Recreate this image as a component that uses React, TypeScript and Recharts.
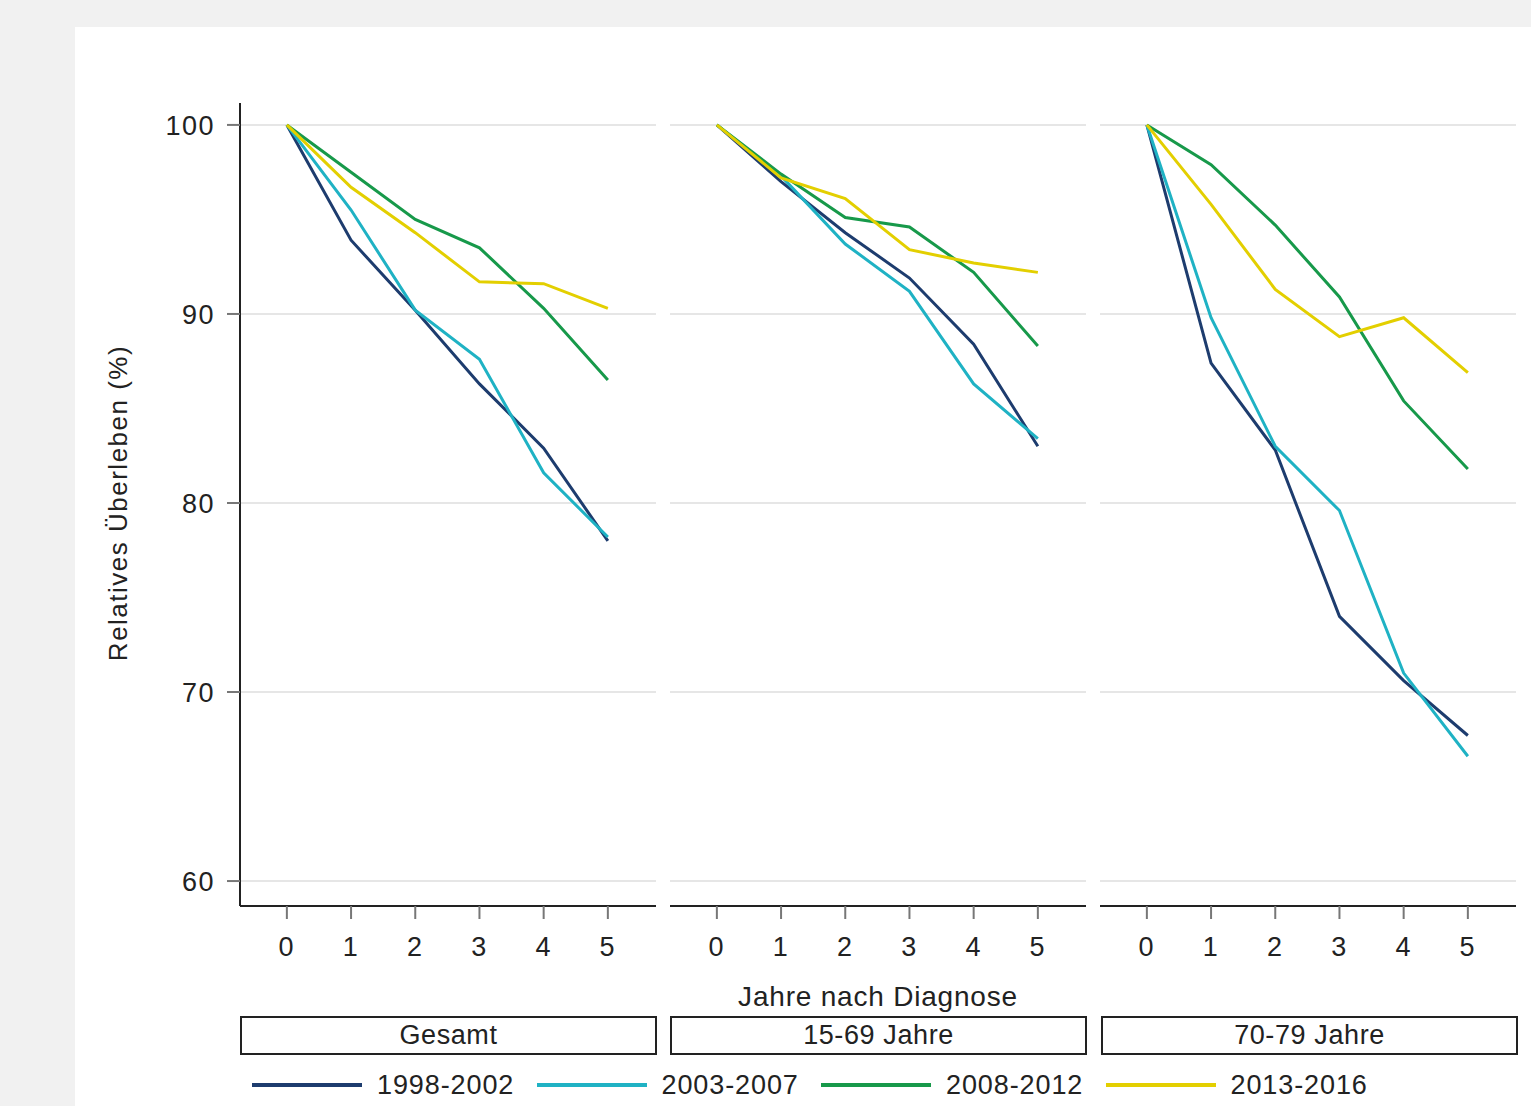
import React from 'react';
import { LineChart, Line, XAxis, YAxis, ReferenceLine } from 'recharts';

// Jahre nach Diagnose
const YEARS = [0, 1, 2, 3, 4, 5];
const Y_TICKS = [60, 70, 80, 90, 100];
const PERIODS = ['1998-2002', '2003-2007', '2008-2012', '2013-2016'];
const COLORS = ['#1d3c6e', '#1fb2c4', '#17994a', '#e3cf00'];
const PANELS = ['Gesamt', '15-69 Jahre', '70-79 Jahre'];

// relatives Überleben (%) – Gesamt
const GESAMT_1998 = [100, 93.9, 90.2, 86.3, 82.9, 78.0];
const GESAMT_2003 = [100, 95.5, 90.2, 87.6, 81.6, 78.2];
const GESAMT_2008 = [100, 97.5, 95.0, 93.5, 90.3, 86.5];
const GESAMT_2013 = [100, 96.7, 94.3, 91.7, 91.6, 90.3];

// 15-69 Jahre
const JUNG_1998 = [100, 97.0, 94.3, 91.9, 88.4, 83.0];
const JUNG_2003 = [100, 97.3, 93.7, 91.2, 86.3, 83.4];
const JUNG_2008 = [100, 97.4, 95.1, 94.6, 92.2, 88.3];
const JUNG_2013 = [100, 97.2, 96.1, 93.4, 92.7, 92.2];

// 70-79 Jahre
const ALT_1998 = [100, 87.4, 82.8, 74.0, 70.6, 67.7];
const ALT_2003 = [100, 89.8, 83.0, 79.6, 71.0, 66.6];
const ALT_2008 = [100, 97.9, 94.7, 90.9, 85.4, 81.8];
const ALT_2013 = [100, 95.8, 91.3, 88.8, 89.8, 86.9];

const SERIES = [
  [GESAMT_1998, GESAMT_2003, GESAMT_2008, GESAMT_2013],
  [JUNG_1998, JUNG_2003, JUNG_2008, JUNG_2013],
  [ALT_1998, ALT_2003, ALT_2008, ALT_2013],
];

const FONT = "'Liberation Sans Narrow', 'Arial Narrow', 'Liberation Sans', sans-serif";
const tickStyle = { fontSize: 27, fill: '#222', fontFamily: FONT, letterSpacing: 1.5 };

const buildRows = (panel: number[][]) =>
  YEARS.map((t, i) => {
    const row: any = { t };
    PERIODS.forEach((p, k) => {
      row[p] = panel[k][i];
    });
    return row;
  });

function Panel({ index }: { index: number }) {
  const data = buildRows(SERIES[index]);
  const first = index === 0;
  return (
    <LineChart
      width={first ? 516 : 416}
      height={900}
      data={data}
      margin={{ top: 13, right: 0, bottom: 14, left: 0 }}
    >
      {Y_TICKS.map((v) => (
        <ReferenceLine key={v} y={v} stroke="#e6e6e6" strokeWidth={2} />
      ))}
      <XAxis
        dataKey="t"
        type="number"
        domain={[-0.73, 5.75]}
        ticks={YEARS}
        allowDataOverflow
        height={70}
        tickSize={13}
        tickMargin={18}
        axisLine={{ stroke: '#222', strokeWidth: 2 }}
        tickLine={{ stroke: '#777', strokeWidth: 2 }}
        tick={tickStyle}
      />
      <YAxis
        type="number"
        domain={[58.68, 101.16]}
        ticks={Y_TICKS}
        allowDataOverflow
        hide={!first}
        width={100}
        tickSize={13}
        tickMargin={12}
        axisLine={{ stroke: '#222', strokeWidth: 2 }}
        tickLine={{ stroke: '#777', strokeWidth: 2 }}
        tick={tickStyle}
      />
      {PERIODS.map((p, k) => (
        <Line
          key={p}
          dataKey={p}
          type="linear"
          stroke={COLORS[k]}
          strokeWidth={3}
          dot={false}
          activeDot={false}
          isAnimationActive={false}
        />
      ))}
    </LineChart>
  );
}

export default function App() {
  const chartLefts = [140, 670, 1100];
  const stripLefts = [240, 670, 1101];
  return (
    <div
      style={{
        position: 'absolute',
        left: 0,
        top: 0,
        width: 1531,
        height: 1106,
        background: '#f1f1f1',
        overflow: 'hidden',
        fontFamily: FONT,
        color: '#222',
      }}
    >
      <div style={{ position: 'absolute', left: 75, top: 27, width: 1456, height: 1079, background: '#fff' }} />

      {chartLefts.map((left, i) => (
        <div key={i} style={{ position: 'absolute', left, top: 90 }}>
          <Panel index={i} />
        </div>
      ))}

      <div
        style={{
          position: 'absolute',
          left: 118,
          top: 503,
          transform: 'translate(-50%, -50%) rotate(-90deg)',
          whiteSpace: 'nowrap',
          fontSize: 26,
          letterSpacing: 1.5,
        }}
      >
        Relatives Überleben (%)
      </div>

      <div
        style={{
          position: 'absolute',
          left: 878,
          top: 997,
          transform: 'translate(-50%, -50%)',
          whiteSpace: 'nowrap',
          fontSize: 28,
          letterSpacing: 0.8,
        }}
      >
        Jahre nach Diagnose
      </div>

      {PANELS.map((name, i) => (
        <div
          key={name}
          style={{
            position: 'absolute',
            left: stripLefts[i],
            top: 1016,
            width: 413,
            height: 35,
            border: '2px solid #222',
            display: 'flex',
            alignItems: 'center',
            justifyContent: 'center',
            fontSize: 27,
            letterSpacing: 0.6,
          }}
        >
          {name}
        </div>
      ))}

      {PERIODS.map((p, k) => (
        <div
          key={p}
          style={{
            position: 'absolute',
            left: 252 + k * 284.5,
            top: 1068,
            height: 34,
            display: 'flex',
            alignItems: 'center',
            whiteSpace: 'nowrap',
            fontSize: 27,
            letterSpacing: 0.9,
          }}
        >
          <span style={{ display: 'inline-block', width: 110, height: 4, background: COLORS[k], marginRight: 15 }} />
          {p}
        </div>
      ))}
    </div>
  );
}
